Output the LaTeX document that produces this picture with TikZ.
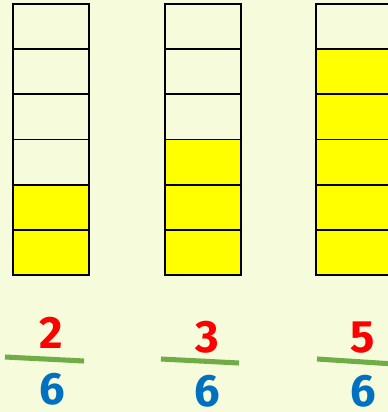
\documentclass[tikz,border=0pt]{standalone}
\usepackage{fontspec}
\setmainfont{Fira Sans}
\definecolor{bgcream}{RGB}{246,251,220}
\definecolor{partyellow}{RGB}{255,255,0}
\definecolor{numred}{RGB}{255,0,0}
\definecolor{denblue}{RGB}{0,112,192}
\definecolor{bargreen}{RGB}{112,173,71}
\tikzset{
  cell/.style={draw=black, line width=1.3pt},
  fracbar/.style={draw=bargreen, line width=3.8pt},
  numtext/.style={inner sep=0pt, text=numred, font=\fontsize{34}{34}\selectfont\bfseries},
  dentext/.style={inner sep=0pt, text=denblue, font=\fontsize{34}{34}\selectfont\bfseries}
}
\begin{document}
\begin{tikzpicture}[x=0.75pt, y=-0.75pt]
    \fill[bgcream] (0,0) rectangle (388,412);
    \useasboundingbox (0,0) rectangle (388,412);
    \clip (0,0) rectangle (388,412);

    % Two of six
    \fill[partyellow] (13,184.7) rectangle (89,275);
    \foreach \r in {0,...,5}
        \draw[cell] (13,4+45.17*\r) rectangle (89,49.17+45.17*\r);
    \node[numtext] (num1) at (51,333) {2};
    \coordinate (barL1) at (5,357);
    \coordinate (barR1) at (84,361);
    \draw[fracbar] (barL1) -- (barR1);
    \node[dentext] (den1) at (52,389) {6};

    % Three of six
    \begin{scope}[xshift=114pt]
        \fill[partyellow] (13,139.5) rectangle (89,275);
        \foreach \r in {0,...,5}
            \draw[cell] (13,4+45.17*\r) rectangle (89,49.17+45.17*\r);
    \end{scope}
    \node[numtext] (num2) at (207,337) {3};
    \coordinate (barL2) at (161,359);
    \coordinate (barR2) at (239,363);
    \draw[fracbar] (barL2) -- (barR2);
    \node[dentext] (den2) at (207,391) {6};

    % Five of six
    \begin{scope}[xshift=227.25pt]
        \fill[partyellow] (13,49.17) rectangle (89,275);
        \foreach \r in {0,...,5}
            \draw[cell] (13,4+45.17*\r) rectangle (89,49.17+45.17*\r);
    \end{scope}
    \node[numtext] (num3) at (363,338) {5};
    \coordinate (barL3) at (317,359);
    \coordinate (barR3) at (394,364);
    \draw[fracbar] (barL3) -- (barR3);
    \node[dentext] (den3) at (363,391) {6};
\end{tikzpicture}
\end{document}
